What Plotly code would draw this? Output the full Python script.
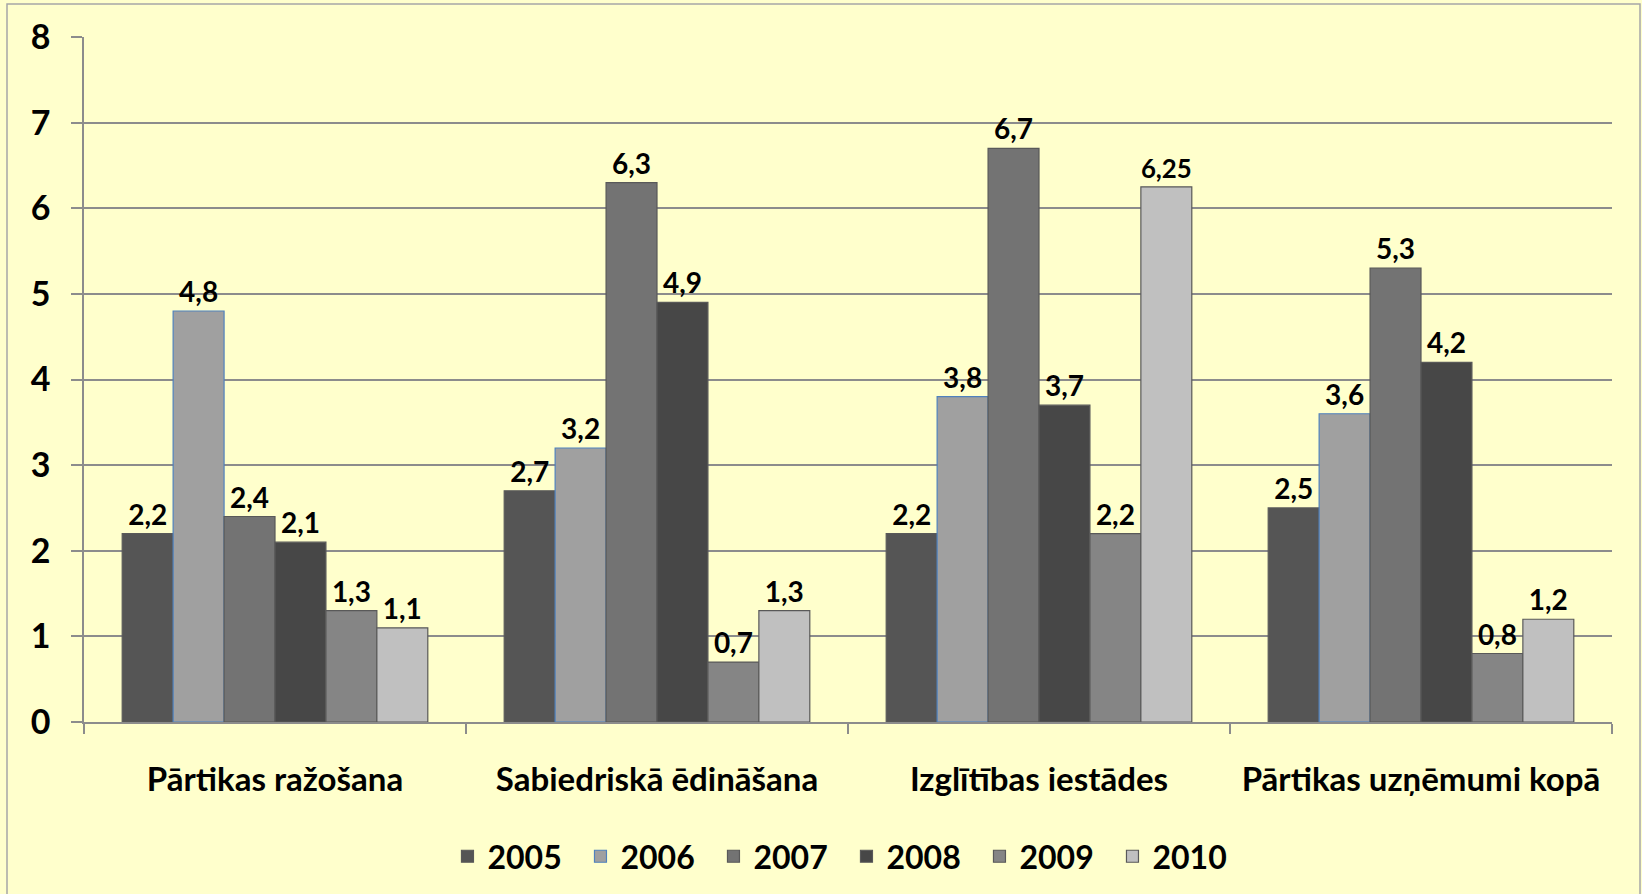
import plotly.graph_objects as go

# data
categories = ["Pārtikas ražošana", "Sabiedriskā ēdināšana", "Izglītības iestādes", "Pārtikas uzņēmumi kopā"]
years = ["2005", "2006", "2007", "2008", "2009", "2010"]
v2005 = [2.2, 2.7, 2.2, 2.5]
v2006 = [4.8, 3.2, 3.8, 3.6]
v2007 = [2.4, 6.3, 6.7, 5.3]
v2008 = [2.1, 4.9, 3.7, 4.2]
v2009 = [1.3, 0.7, 2.2, 0.8]
v2010 = [1.1, 1.3, 6.25, 1.2]

series = [v2005, v2006, v2007, v2008, v2009, v2010]
fills = ["#555555", "#A0A0A0", "#737373", "#474747", "#858585", "#C0C0C0"]
outlines = ["#595959", "#4F81BD", "#595959", "#595959", "#595959", "#595959"]

FONT = "Lato, 'Open Sans', sans-serif"
BG = "#FFFFCC"

fig = go.Figure()

for year, vals, fc, lc in zip(years, series, fills, outlines):
    fig.add_trace(go.Bar(
        x=categories,
        y=vals,
        name=year,
        marker=dict(color=fc, line=dict(color=lc, width=1.2)),
        text=[str(v).replace(".", ",") for v in vals],
        textposition="outside",
        textfont=dict(family=FONT, size=28, color="black", weight="bold"),
        cliponaxis=False,
    ))

# outer chart border
W, H = 1642, 894
ml, mr, mt, mb = 84, 30, 37, 172
pw, ph = W - ml - mr, H - mt - mb
fig.add_shape(
    type="rect", xref="paper", yref="paper",
    x0=(7 - ml) / pw, x1=(W - 2 - ml) / pw,
    y0=-(mb + 10) / ph, y1=(H - mb - 4) / ph,
    line=dict(color="#A6A6A6", width=1.5),
    fillcolor="rgba(0,0,0,0)", layer="below",
)

fig.update_layout(
    width=W, height=H,
    paper_bgcolor=BG, plot_bgcolor=BG,
    margin=dict(l=ml, r=mr, t=mt, b=mb),
    barmode="group", bargap=0.2, bargroupgap=0,
    showlegend=True,
    legend=dict(
        orientation="h", x=0.499, xanchor="center",
        yref="container", y=0.042, yanchor="middle",
        font=dict(family=FONT, size=32, color="black", weight="bold"),
        entrywidth=88, entrywidthmode="pixels",
        bgcolor="rgba(0,0,0,0)", traceorder="normal",
    ),
    xaxis=dict(
        showline=True, linecolor="#8C8C8C", linewidth=1.5,
        ticks="outside", tickson="boundaries", ticklen=10, tickcolor="#8C8C8C", tickwidth=1.5,
        tickfont=dict(family=FONT, size=33, color="black", weight="bold"),
        ticklabelstandoff=28,
    ),
    yaxis=dict(
        range=[0, 8], dtick=1,
        showgrid=True, gridcolor="#8C8C8C", gridwidth=1.5,
        showline=True, linecolor="#8C8C8C", linewidth=1.5,
        zeroline=False,
        ticks="outside", ticklen=11, tickcolor="#8C8C8C", tickwidth=1.5,
        tickfont=dict(family=FONT, size=34, color="black", weight="bold"),
        ticklabelstandoff=14,
    ),
)

fig.write_html(
    "out.html",
    config={"displayModeBar": False},
    post_script="document.body.style.margin='0';document.body.style.background='#FFFFCC';",
)
